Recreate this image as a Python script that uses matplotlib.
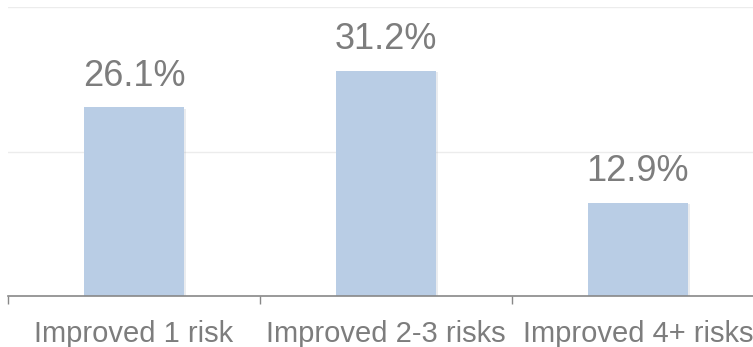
import matplotlib
matplotlib.use("Agg")
import matplotlib.pyplot as plt
import matplotlib.patheffects as pe
import numpy as np

categories = ["Improved 1 risk", "Improved 2-3 risks", "Improved 4+ risks"]
values = [26.1, 31.2, 12.9]
value_labels = ["26.1%", "31.2%", "12.9%"]
y_ticks = [0, 20, 40]

plt.rcParams['font.family'] = ['Liberation Sans', 'DejaVu Sans']

W, H = 753, 347
fig = plt.figure(figsize=(W / 100, H / 100), dpi=100)
left_px, right_px = 8, 753
bottom_px, top_px = 296, 7
ax = fig.add_axes([left_px / W, (H - bottom_px) / H, (right_px - left_px) / W, (bottom_px - top_px) / H])

x = np.arange(len(categories))
bars = ax.bar(x, values, width=0.4, color="#b9cde5", zorder=3)
for b in bars:
    b.set_path_effects([pe.SimplePatchShadow(offset=(1.2, -1.2), shadow_rgbFace="#9aa4b0", alpha=0.2), pe.Normal()])

for xi, v, lab in zip(x, values, value_labels):
    ax.annotate(lab, (xi, v), xytext=(0, 10), textcoords="offset points",
                ha="center", va="bottom", fontsize=26, color="#7d7d7d")

ax.set_yticks(y_ticks)
ax.yaxis.grid(True, color="#ececec", linewidth=1.0, zorder=0)
ax.tick_params(axis="y", left=False, labelleft=False)

ax.set_xticks(x)
ax.set_xticklabels(categories, fontsize=21, color="#7d7d7d")
ax.set_xticks(np.arange(len(categories) + 1) - 0.5, minor=True)
ax.tick_params(axis="x", which="major", length=0, pad=17.5)
ax.tick_params(axis="x", which="minor", length=6, width=1, color="#888888", direction="out")

ax.set_xlim(-0.5, -0.5 + (right_px - left_px) / 252)
ax.set_ylim(0, 40)

for s in ["top", "right", "left"]:
    ax.spines[s].set_visible(False)
ax.spines["bottom"].set_color("#888888")
ax.spines["bottom"].set_linewidth(1.2)
ax.spines["bottom"].set_zorder(4)

fig.savefig("out.png", dpi=100)
